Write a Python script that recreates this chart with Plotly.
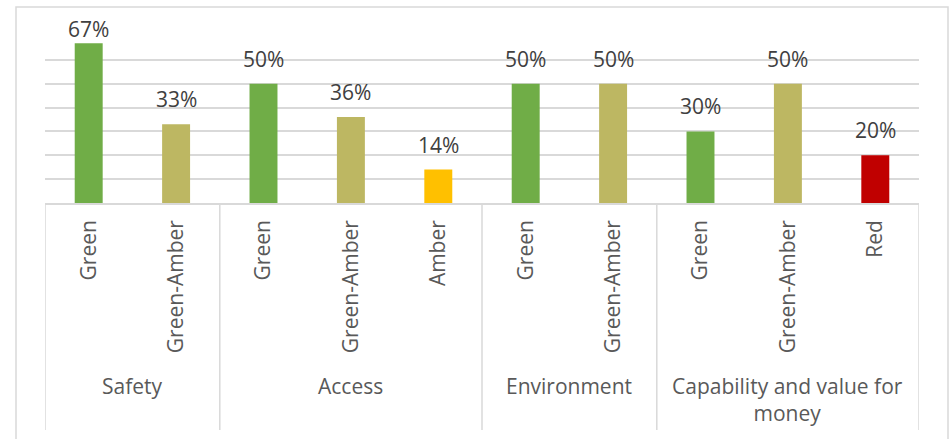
import plotly.graph_objects as go

# Assessment ratings by area (share of items in each rating)
groups = ["Safety", "Safety", "Access", "Access", "Access",
          "Environment", "Environment",
          "Capability and value for<br>money", "Capability and value for<br>money",
          "Capability and value for<br>money"]
ratings = ["Green", "Green-Amber", "Green", "Green-Amber", "Amber",
           "Green", "Green-Amber", "Green", "Green-Amber", "Red"]
shares = [0.67, 0.33, 0.50, 0.36, 0.14, 0.50, 0.50, 0.30, 0.50, 0.20]

rating_colors = {
    "Green": "#70AD47",
    "Green-Amber": "#BDB762",
    "Amber": "#FFC000",
    "Red": "#C00000",
}

FONT = "Open Sans"
TEXT = "#595959"
LABEL = "#404040"
GRID = "#D9D9D9"
Y_MAX = 0.7

# plot-area geometry in pixels (used to place the category table below the axis)
PLOT_TOP, PLOT_BOTTOM = 36, 203
PLOT_H = PLOT_BOTTOM - PLOT_TOP


def px_to_paper_y(py):
    return (PLOT_BOTTOM - py) / PLOT_H


positions = list(range(len(ratings)))

fig = go.Figure(
    go.Bar(
        x=positions,
        y=shares,
        marker=dict(color=[rating_colors[r] for r in ratings], line=dict(width=0)),
        width=0.32,
        hoverinfo="skip",
    )
)

# value labels above each bar; the tallest one is nudged down to stay inside the frame
for x, v in zip(positions, shares):
    fig.add_annotation(
        x=x, y=min(v, Y_MAX - 0.075), xref="x", yref="y",
        text=f"{round(v * 100)}%", showarrow=False,
        yanchor="bottom", yshift=9,
        font=dict(family=FONT, size=21, color=LABEL),
    )

# group spans along the category axis
spans = []
start = 0
for i in range(1, len(groups) + 1):
    if i == len(groups) or groups[i] != groups[start]:
        spans.append((groups[start], start, i - 1))
        start = i

# group labels and the divider lines between groups
divider_bottom = px_to_paper_y(430)
for name, first, last in spans:
    fig.add_annotation(
        x=(first + last) / 2, y=px_to_paper_y(370), xref="x", yref="paper",
        text=name, showarrow=False, yanchor="top",
        font=dict(family=FONT, size=21, color=TEXT),
    )
edges = [spans[0][1] - 0.5] + [last + 0.5 for _, _, last in spans]
for e in edges:
    fig.add_shape(
        type="line", xref="x", yref="paper",
        x0=e, x1=e, y0=0, y1=divider_bottom,
        line=dict(color=GRID, width=1.5),
    )

# light frame around the whole chart
fig.add_shape(
    type="rect", xref="paper", yref="paper",
    x0=-29 / 874, x1=(948 - 45) / 874, y0=px_to_paper_y(450), y1=px_to_paper_y(7),
    line=dict(color=GRID, width=1.5), fillcolor="rgba(0,0,0,0)", layer="below",
)

fig.update_layout(
    width=950, height=439,
    margin=dict(l=45, r=31, t=PLOT_TOP, b=439 - PLOT_BOTTOM, autoexpand=False),
    paper_bgcolor="white", plot_bgcolor="white",
    showlegend=False,
    font=dict(family=FONT, size=21, color=TEXT),
    xaxis=dict(
        range=[-0.5, len(ratings) - 0.5],
        tickmode="array", tickvals=positions, ticktext=ratings,
        tickangle=-90,
        showline=True, linecolor=GRID, linewidth=1.5,
        showgrid=False, zeroline=False,
        ticks="", ticklabelstandoff=7,
        tickfont=dict(family=FONT, size=21, color=TEXT),
        automargin=False,
    ),
    yaxis=dict(
        range=[0, Y_MAX], dtick=0.1, showticklabels=False,
        showgrid=True, gridcolor=GRID, gridwidth=1.5,
        zeroline=False, showline=False,
    ),
)

fig.write_html("out.html")
